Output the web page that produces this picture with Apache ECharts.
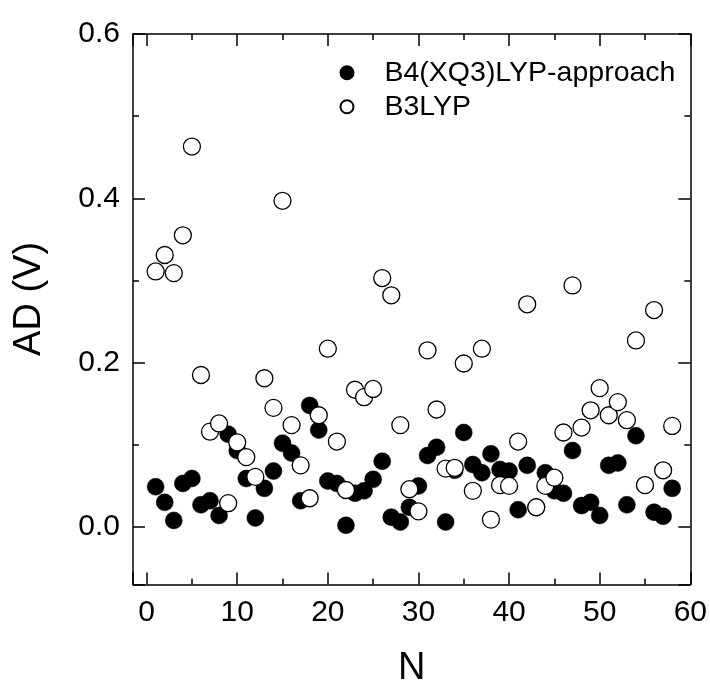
<!DOCTYPE html>
<html>
<head>
<meta charset="utf-8">
<script src="https://cdn.jsdelivr.net/npm/echarts@6/dist/echarts.min.js"></script>
<style>
html,body{margin:0;padding:0;background:#fff;}
#chart{width:710px;height:693px;}
</style>
</head>
<body>
<div id="chart"></div>
<script>
const nValues = [1,2,3,4,5,6,7,8,9,10,11,12,13,14,15,16,17,18,19,20,21,22,23,24,25,26,27,28,29,30,31,32,33,34,35,36,37,38,39,40,41,42,43,44,45,46,47,48,49,50,51,52,53,54,55,56,57,58];
const b4xq3Values = [0.049,0.030,0.008,0.053,0.059,0.027,0.032,0.014,0.113,0.093,0.059,0.011,0.047,0.068,0.102,0.090,0.032,0.148,0.118,0.056,0.053,0.002,0.041,0.044,0.058,0.080,0.012,0.006,0.024,0.050,0.087,0.097,0.006,0.069,0.115,0.076,0.066,0.089,0.070,0.068,0.021,0.075,0.024,0.066,0.044,0.041,0.093,0.026,0.030,0.014,0.075,0.078,0.027,0.111,0.051,0.018,0.013,0.047];
const b3lypValues = [0.311,0.331,0.309,0.355,0.463,0.185,0.116,0.126,0.029,0.103,0.085,0.061,0.181,0.145,0.397,0.124,0.075,0.035,0.136,0.217,0.104,0.045,0.167,0.158,0.168,0.303,0.282,0.124,0.046,0.019,0.215,0.143,0.071,0.072,0.199,0.044,0.217,0.009,0.051,0.050,0.104,0.271,0.024,0.050,0.060,0.115,0.294,0.121,0.142,0.169,0.136,0.152,0.130,0.227,0.051,0.264,0.069,0.123];
const seriesNames = ['B4(XQ3)LYP-approach', 'B3LYP'];
const xTitle = 'N';
const yTitle = 'AD (V)';

const FONT = 'Liberation Sans, Arial, Helvetica, sans-serif';
const axisCommon = {
  axisLine: {show: true, onZero: false, lineStyle: {color: '#000', width: 1.5}},
  axisTick: {show: true, inside: true, length: 12, lineStyle: {color: '#000', width: 1.5}},
  minorTick: {show: true, splitNumber: 2, length: 6, lineStyle: {color: '#000', width: 1.5}},
  splitLine: {show: false},
  minorSplitLine: {show: false}
};

const chart = echarts.init(document.getElementById('chart'), null, {renderer: 'canvas'});
chart.setOption({
  animation: false,
  backgroundColor: '#fff',
  grid: {left: 133, right: 19.6, top: 34, bottom: 101, containLabel: false},
  legend: {
    orient: 'vertical',
    left: 334.5,
    top: 53.25,
    itemWidth: 65,
    itemHeight: 13,
    itemGap: 5,
    textStyle: {fontFamily: FONT, fontSize: 28.5, color: '#000', lineHeight: 28.5},
    data: seriesNames
  },
  xAxis: [
    Object.assign({}, axisCommon, {
      type: 'value', position: 'bottom', min: -1.5, max: 60, splitNumber: 6,
      name: xTitle, nameLocation: 'middle', nameGap: 65.5,
      nameTextStyle: {fontFamily: FONT, fontSize: 38, color: '#000'},
      axisLabel: {show: true, showMinLabel: false, margin: 13.5, fontFamily: FONT, fontSize: 30, color: '#000'}
    }),
    Object.assign({}, axisCommon, {
      type: 'value', position: 'top', min: -1.5, max: 60, splitNumber: 6,
      axisLabel: {show: false}
    })
  ],
  yAxis: [
    Object.assign({}, axisCommon, {
      type: 'value', position: 'left', min: -0.07, max: 0.6, splitNumber: 3,
      name: yTitle, nameLocation: 'middle', nameGap: 84.3,
      nameTextStyle: {fontFamily: FONT, fontSize: 38, color: '#000', padding: [0, 0, 0, 20.6]},
      axisLabel: {show: true, showMinLabel: false, margin: 13, fontFamily: FONT, fontSize: 30, color: '#000',
        formatter: function (v) { return v.toFixed(1); }}
    }),
    Object.assign({}, axisCommon, {
      type: 'value', position: 'right', min: -0.07, max: 0.6, splitNumber: 3,
      axisLabel: {show: false}
    })
  ],
  series: [
    {
      name: seriesNames[0], type: 'scatter', xAxisIndex: 0, yAxisIndex: 0,
      symbol: 'circle', symbolSize: 17,
      itemStyle: {color: '#000', borderColor: '#000', borderWidth: 0.5, opacity: 1},
      data: nValues.map((n, i) => [n, b4xq3Values[i]])
    },
    {
      name: seriesNames[1], type: 'scatter', xAxisIndex: 0, yAxisIndex: 0,
      symbol: 'circle', symbolSize: 17,
      itemStyle: {color: '#fff', borderColor: '#000', borderWidth: 1.3, opacity: 1},
      data: nValues.map((n, i) => [n, b3lypValues[i]])
    }
  ]
});
</script>
</body>
</html>
